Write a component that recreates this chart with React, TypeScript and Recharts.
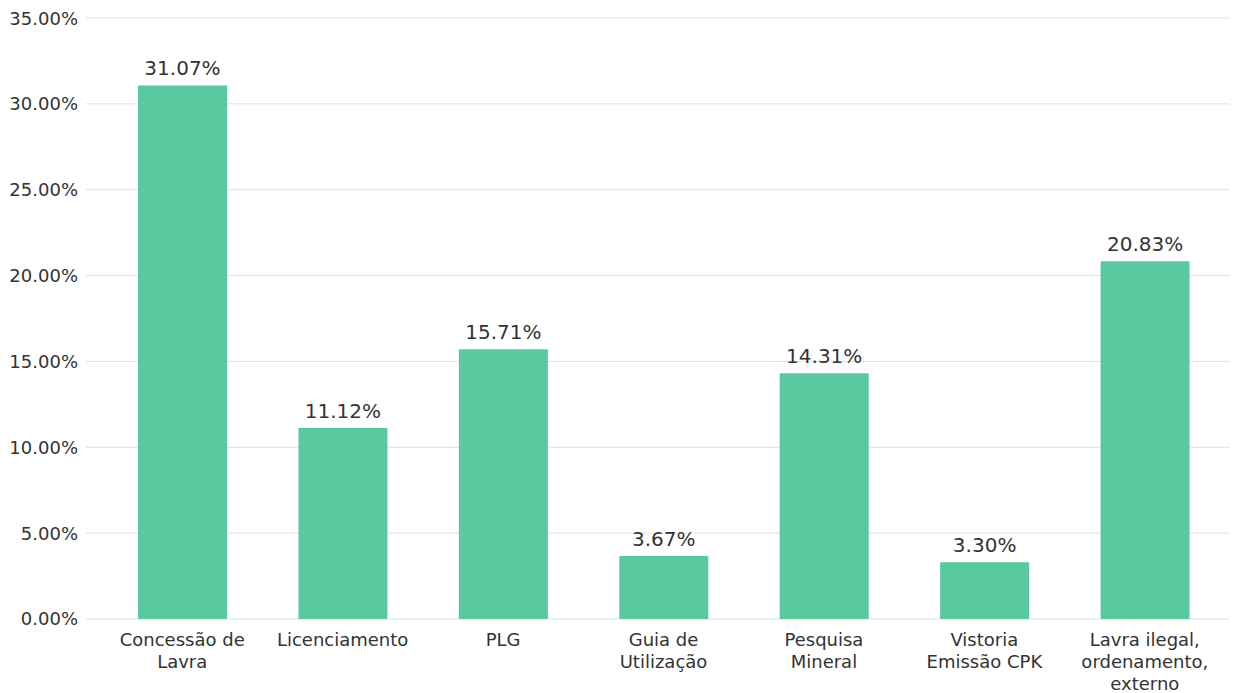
import React from 'react';
import { BarChart, Bar, XAxis, YAxis, CartesianGrid, LabelList } from 'recharts';

const categories = [
  'Concessão de\nLavra',
  'Licenciamento',
  'PLG',
  'Guia de\nUtilização',
  'Pesquisa\nMineral',
  'Vistoria\nEmissão CPK',
  'Lavra ilegal,\nordenamento,\nexterno',
];
const shares = [31.07, 11.12, 15.71, 3.67, 14.31, 3.3, 20.83];
const yTicks = [0, 5, 10, 15, 20, 25, 30, 35];

const barColor = '#5bc9a0';
const textColor = '#333333';
const font = '"DejaVu Sans", sans-serif';

const chartData = categories.map((name, i) => ({ name, value: shares[i] }));

const pct = (v: number) => `${v.toFixed(2)}%`;

const CategoryTick = (props: any) => {
  const { x, y, payload } = props;
  const lines = String(payload.value).split('\n');
  return (
    <g transform={`translate(${x},${y})`}>
      <text textAnchor="middle" fill={textColor} fontSize={18} fontFamily={font}>
        {lines.map((line, i) => (
          <tspan key={i} x={0} dy={i === 0 ? 25 : 22}>
            {line}
          </tspan>
        ))}
      </text>
    </g>
  );
};

export default function App() {
  return (
    <div style={{ fontFamily: font }}>
      <BarChart
        width={1230}
        height={685}
        data={chartData}
        margin={{ top: 10, right: 0, left: 0, bottom: 0 }}
      >
        <CartesianGrid stroke="#e0e0e0" vertical={false} />
        <XAxis
          dataKey="name"
          height={74}
          axisLine={false}
          tickLine={false}
          tickSize={0}
          interval={0}
          padding={{ left: 16, right: 13 }}
          tick={<CategoryTick />}
        />
        <YAxis
          width={78}
          domain={[0, 35]}
          ticks={yTicks}
          axisLine={false}
          tickLine={false}
          tickSize={0}
          tickMargin={8}
          tickFormatter={pct}
          tick={{ fill: textColor, fontSize: 18, fontFamily: font }}
        />
        <Bar dataKey="value" fill={barColor} barSize={89} isAnimationActive={false}>
          <LabelList
            dataKey="value"
            position="top"
            offset={10}
            formatter={(v: any) => pct(Number(v))}
            fill={textColor}
            fontSize={20}
            fontFamily={font}
          />
        </Bar>
      </BarChart>
    </div>
  );
}
